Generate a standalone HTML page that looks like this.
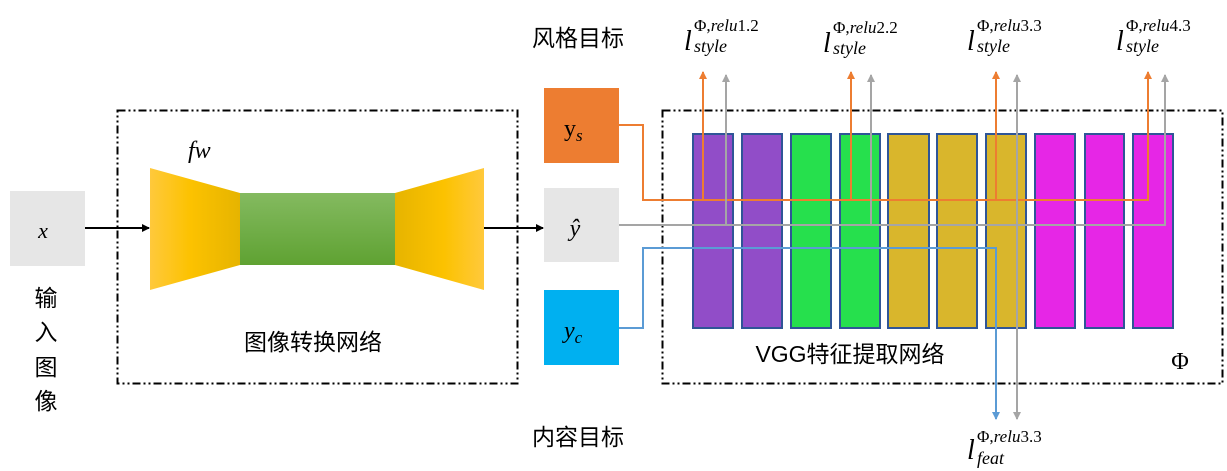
<!DOCTYPE html>
<html><head><meta charset="utf-8"><style>
body{margin:0;background:#fff;}
svg{display:block;}
.cj{font-family:"Liberation Sans","Noto Sans CJK SC",sans-serif;}
.m{font-family:"Liberation Serif","DejaVu Serif",serif;font-style:italic;}
</style></head><body>
<svg width="1227" height="471" viewBox="0 0 1227 471" xmlns="http://www.w3.org/2000/svg">
<defs>
<linearGradient id="tl" x1="0" x2="1"><stop offset="0" stop-color="#ffc93c"/><stop offset="0.45" stop-color="#fcc200"/><stop offset="1" stop-color="#e6b400"/></linearGradient>
<linearGradient id="tr" x1="1" x2="0"><stop offset="0" stop-color="#ffc93c"/><stop offset="0.45" stop-color="#fcc200"/><stop offset="1" stop-color="#e6b400"/></linearGradient>
<linearGradient id="gr" x1="0" y1="0" x2="0" y2="1"><stop offset="0" stop-color="#84ba60"/><stop offset="1" stop-color="#5fa232"/></linearGradient>
<marker id="ab" markerWidth="8" markerHeight="8" refX="7" refY="4" orient="auto" markerUnits="userSpaceOnUse"><path d="M0,0 L8,4 L0,8 z" fill="#000"/></marker>
<marker id="ao" markerWidth="8" markerHeight="8" refX="7" refY="4" orient="auto" markerUnits="userSpaceOnUse"><path d="M0,0 L8,4 L0,8 z" fill="#ed7d31"/></marker>
<marker id="ag" markerWidth="8" markerHeight="8" refX="7" refY="4" orient="auto" markerUnits="userSpaceOnUse"><path d="M0,0 L8,4 L0,8 z" fill="#a5a5a5"/></marker>
<marker id="abl" markerWidth="8" markerHeight="8" refX="7" refY="4" orient="auto" markerUnits="userSpaceOnUse"><path d="M0,0 L8,4 L0,8 z" fill="#5b9bd5"/></marker>
</defs>
<!-- boxes -->
<rect x="117.5" y="110.5" width="400" height="273" fill="none" stroke="#000" stroke-width="2" stroke-dasharray="8,3,2,3,2,3"/>
<rect x="662.5" y="110.5" width="560" height="273" fill="none" stroke="#000" stroke-width="2" stroke-dasharray="8,3,2,3,2,3"/>
<rect x="10" y="191" width="75" height="75" fill="#e6e6e6"/>
<text x="43" y="238" class="m" font-size="22" text-anchor="middle">x</text>
<polygon points="150,168 240,193 240,265 150,290" fill="url(#tl)"/>
<rect x="240" y="193" width="155" height="72" fill="url(#gr)"/>
<polygon points="395,193 484,168 484,290 395,265" fill="url(#tr)"/>
<text x="188" y="158" class="m" font-size="24">fw</text>
<text x="313" y="350" class="cj" font-size="23" text-anchor="middle">图像转换网络</text>
<g class="cj" font-size="23" text-anchor="middle"><text x="46" y="306">输</text><text x="46" y="340">入</text><text x="46" y="375">图</text><text x="46" y="409">像</text></g>
<line x1="85" y1="228" x2="149" y2="228" stroke="#000" stroke-width="2" marker-end="url(#ab)"/>
<line x1="484" y1="228" x2="543" y2="228" stroke="#000" stroke-width="2" marker-end="url(#ab)"/>
<rect x="544" y="88" width="75" height="75" fill="#ed7d31"/>
<rect x="544" y="188" width="75" height="74" fill="#e6e6e6"/>
<rect x="544" y="290" width="75" height="75" fill="#00b0f0"/>
<text x="564" y="136" font-family="Liberation Serif,serif" font-size="24">y<tspan class="m" font-size="17" dy="5">s</tspan></text>
<text x="575" y="236" class="m" font-size="24" text-anchor="middle">ŷ</text>
<text x="564" y="338" class="m" font-size="24">y<tspan font-size="17" dy="5">c</tspan></text>
<text x="578" y="46" class="cj" font-size="23" text-anchor="middle">风格目标</text>
<text x="578" y="445" class="cj" font-size="23" text-anchor="middle">内容目标</text>
<!-- bars -->
<g stroke="#2f5597" stroke-width="2">
<rect x="693" y="134" width="40" height="194" fill="#914dc8"/>
<rect x="742" y="134" width="40" height="194" fill="#914dc8"/>
<rect x="791" y="134" width="40" height="194" fill="#26e04d"/>
<rect x="840" y="134" width="40" height="194" fill="#26e04d"/>
<rect x="888" y="134" width="41" height="194" fill="#d9b62c"/>
<rect x="937" y="134" width="40" height="194" fill="#d9b62c"/>
<rect x="986" y="134" width="40" height="194" fill="#d9b62c"/>
<rect x="1035" y="134" width="40" height="194" fill="#e626e6"/>
<rect x="1085" y="134" width="39" height="194" fill="#e626e6"/>
<rect x="1133" y="134" width="40" height="194" fill="#e626e6"/>
</g>
<text x="850" y="362" class="cj" font-size="23" text-anchor="middle">VGG特征提取网络</text>
<text x="1180" y="369" font-family="Liberation Serif,serif" font-size="24" text-anchor="middle">Φ</text>
<!-- connectors -->
<g fill="none" stroke-width="2">
<polyline points="619,125 643,125 643,200 1148,200" stroke="#ed7d31"/>
<line x1="703" y1="200" x2="703" y2="72" stroke="#ed7d31" marker-end="url(#ao)"/>
<line x1="851" y1="200" x2="851" y2="72" stroke="#ed7d31" marker-end="url(#ao)"/>
<line x1="996" y1="200" x2="996" y2="72" stroke="#ed7d31" marker-end="url(#ao)"/>
<line x1="1148" y1="201" x2="1148" y2="72" stroke="#ed7d31" marker-end="url(#ao)"/>
<polyline points="619,225 1165,225" stroke="#a5a5a5"/>
<line x1="726" y1="225" x2="726" y2="75" stroke="#a5a5a5" marker-end="url(#ag)"/>
<line x1="871" y1="225" x2="871" y2="75" stroke="#a5a5a5" marker-end="url(#ag)"/>
<line x1="1017" y1="225" x2="1017" y2="75" stroke="#a5a5a5" marker-end="url(#ag)"/>
<line x1="1165" y1="226" x2="1165" y2="75" stroke="#a5a5a5" marker-end="url(#ag)"/>
<line x1="1017" y1="225" x2="1017" y2="419" stroke="#a5a5a5" marker-end="url(#ag)"/>
<polyline points="619,328 643,328 643,248 996,248 996,419" stroke="#5b9bd5" marker-end="url(#abl)"/>
</g>
<!-- labels -->
<g font-family="Liberation Serif,DejaVu Serif,serif">
<text x="684" y="50" font-size="28" font-style="italic">l</text><text x="694" y="31" font-size="17"><tspan>Φ,</tspan><tspan font-style="italic">relu</tspan>1.2</text><text x="694" y="52" font-size="18" font-style="italic">style</text>
<text x="823" y="52" font-size="28" font-style="italic">l</text><text x="833" y="33" font-size="17"><tspan>Φ,</tspan><tspan font-style="italic">relu</tspan>2.2</text><text x="833" y="54" font-size="18" font-style="italic">style</text>
<text x="967" y="50" font-size="28" font-style="italic">l</text><text x="977" y="31" font-size="17"><tspan>Φ,</tspan><tspan font-style="italic">relu</tspan>3.3</text><text x="977" y="52" font-size="18" font-style="italic">style</text>
<text x="1116" y="50" font-size="28" font-style="italic">l</text><text x="1126" y="31" font-size="17"><tspan>Φ,</tspan><tspan font-style="italic">relu</tspan>4.3</text><text x="1126" y="52" font-size="18" font-style="italic">style</text>
<text x="967" y="459" font-size="28" font-style="italic">l</text><text x="977" y="442" font-size="17"><tspan>Φ,</tspan><tspan font-style="italic">relu</tspan>3.3</text><text x="977" y="464" font-size="18" font-style="italic">feat</text>
</g>
</svg>
</body></html>
